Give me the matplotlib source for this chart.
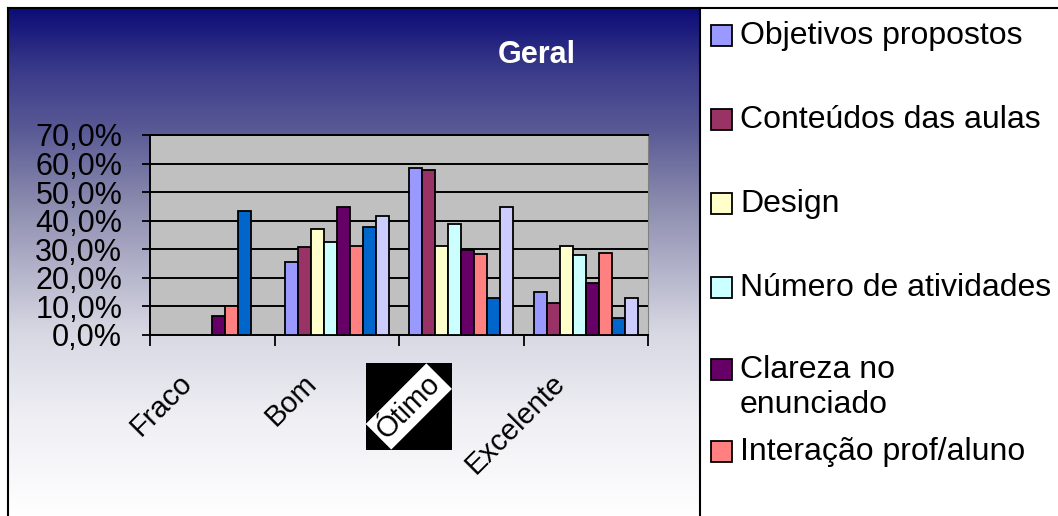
import numpy as np
import matplotlib
matplotlib.use("Agg")
import matplotlib.pyplot as plt
from matplotlib.colors import LinearSegmentedColormap
from matplotlib.patches import Rectangle
from matplotlib.lines import Line2D
from matplotlib.transforms import ScaledTranslation

plt.rcParams['font.family'] = ['Liberation Sans', 'DejaVu Sans']

categorias = ["Fraco", "Bom", "Ótimo", "Excelente"]
series = ["Objetivos propostos", "Conteúdos das aulas", "Design",
          "Número de atividades", "Clareza no\nenunciado",
          "Interação prof/aluno", "Série 7", "Série 8"]
cores = ["#9999FF", "#993366", "#FFFFCC", "#CCFFFF",
         "#660066", "#FF8080", "#0066CC", "#CCCCFF"]

objetivos = [0, 25.7, 58.6, 15.2]
conteudos = [0, 30.7, 57.9, 11.1]
design = [0, 37.0, 31.2, 31.3]
atividades = [0, 32.6, 39.0, 27.9]
clareza = [6.8, 44.7, 29.9, 18.1]
interacao = [10.3, 31.3, 28.5, 28.6]
serie7 = [43.3, 37.7, 13.1, 6.1]
serie8 = [0, 41.8, 44.7, 13.1]
valores = [objetivos, conteudos, design, atividades, clareza, interacao, serie7, serie8]

W, H = 1058, 516
fig = plt.figure(figsize=(W / 100, H / 100), dpi=100)

# gradient background of the chart panel
bg = fig.add_axes([8 / W, 0, (700 - 8) / W, (H - 8) / H], zorder=0)
cmap = LinearSegmentedColormap.from_list("grad", [
    (0.0, "#0c0c78"), (0.12, "#3a3a8a"), (0.24, "#5a5a96"),
    (0.38, "#8a8aae"), (0.64, "#d8d8e4"), (0.81, "#efeff4"), (1.0, "#ffffff")])
bg.imshow(np.linspace(0, 1, 256).reshape(-1, 1), aspect="auto", cmap=cmap,
          extent=[0, 1, 0, 1], origin="upper")
bg.axis("off")

ax = fig.add_axes([150 / W, (H - 335) / H, (648 - 150) / W, 200 / H], zorder=2)
ax.set_facecolor("#c0c0c0")

x = np.arange(len(categorias))
w = 0.104
for i, (vals, cor) in enumerate(zip(valores, cores)):
    ax.bar(x + (i - 3.5) * w, vals, w, color=cor, edgecolor="black",
           linewidth=1.3, zorder=3)

ax.set_xlim(-0.5, 3.5)
ax.set_ylim(0, 70)
ax.set_yticks(np.arange(0, 71, 10))
ax.set_yticklabels([f"{v:.1f}%".replace(".", ",") for v in np.arange(0, 71, 10)])
ax.yaxis.grid(True, color="black", linewidth=1.4, zorder=1)
ax.set_axisbelow(True)
ax.tick_params(axis="y", direction="out", length=6, width=1.3, pad=14,
               labelsize=22)

ax.set_xticks(np.arange(-0.5, 3.6, 1))
ax.set_xticklabels([])
ax.tick_params(axis="x", which="major", direction="out", length=8, width=1.3)

# category labels, rotated, ending left of each group centre
offset = ScaledTranslation(-0.25, -0.44, fig.dpi_scale_trans)
rotulos = []
for xi, cat in zip(x, categorias):
    rotulos.append(ax.text(xi, 0, cat, transform=ax.get_xaxis_transform() + offset,
                           rotation=45, ha="right", va="center",
                           rotation_mode="anchor", fontsize=21, clip_on=False))

for s in ["left", "bottom", "top"]:
    ax.spines[s].set_color("black")
    ax.spines[s].set_linewidth(1.4)
ax.spines["right"].set_color("#808080")

fig.text(537 / W, 1 - 55 / H, "Geral", color="white", fontsize=22,
         fontweight="bold", ha="center", va="center")

# legend (only the first six entries are visible)
leg_y = [35, 119, 203, 287, 369, 451]
for k, yc in enumerate(leg_y):
    fig.patches.append(Rectangle((711 / W, 1 - (yc + 10.5) / H), 21 / W, 21 / H,
                                 transform=fig.transFigure, facecolor=cores[k],
                                 edgecolor="black", linewidth=1.3, zorder=5))
    for j, linha in enumerate(series[k].split("\n")):
        fig.text(740 / W, 1 - (yc + 1 + j * 35) / H, linha, fontsize=23,
                 ha="left", va="center")

# panel borders
for xs, ys in [((8, W), (8, 8)), ((8, 8), (8, H)), ((700, 700), (8, H))]:
    fig.lines.append(Line2D([v / W for v in xs], [1 - v / H for v in ys],
                            transform=fig.transFigure, color="black",
                            linewidth=1.5, zorder=6))

# selected label "Ótimo" drawn on a black square
lbl = rotulos[2]
lbl.set_bbox(dict(facecolor="white", edgecolor="none", pad=3))
fig.canvas.draw()
bb = lbl.get_bbox_patch().get_window_extent()
fig.patches.append(Rectangle((bb.x0 / W, bb.y0 / H), bb.width / W, bb.height / H,
                             transform=fig.transFigure, facecolor="black",
                             edgecolor="none", zorder=1))

fig.savefig("out.png", dpi=100)
